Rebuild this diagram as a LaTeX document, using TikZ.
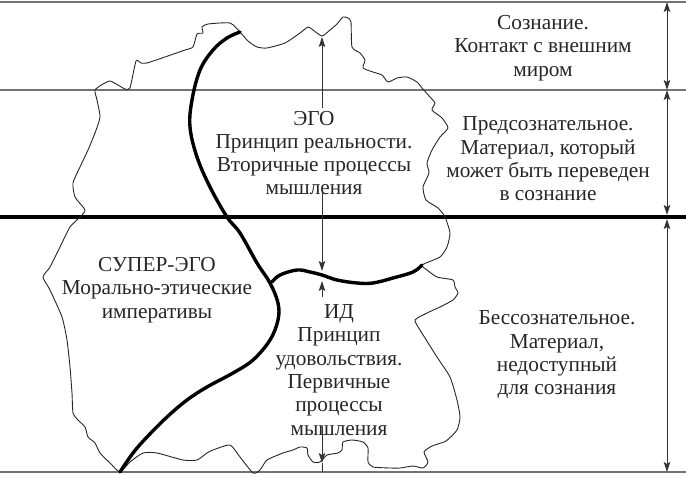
\documentclass[tikz,border=0pt]{standalone}
\usepackage{fontspec}
\setmainfont{Liberation Serif}
\usetikzlibrary{arrows.meta}
\begin{document}
\begin{tikzpicture}[x=1pt,y=-1pt,
  lbl/.style={align=center, font=\fontsize{21.3}{23.3}\selectfont, inner sep=0pt, text=black!85},
  hline/.style={draw=black!55, line width=1.2pt},
  outl/.style={draw=black!85, line width=0.9pt, line join=round},
  bold/.style={line width=3.4pt, line cap=round},
  arr/.style={-{Stealth[length=10pt,width=6.5pt,inset=2pt]}, line width=0.9pt, draw=black!80},
  darr/.style={{Stealth[length=10pt,width=6.5pt,inset=2pt]}-{Stealth[length=10pt,width=6.5pt,inset=2pt]}, line width=0.9pt, draw=black!80}]
\useasboundingbox (0,0) rectangle (686,477);

% horizontal level lines
\draw[hline] (0,2) -- (686,2);
\draw[hline] (0,90) -- (686,90);
\draw[line width=4pt] (0,217) -- (686,217);
\draw[hline] (0,472) -- (686,472);

% outline of the psyche
\draw[outl] plot[smooth cycle, tension=0.35] coordinates {
 (120,472) (110,463) (100,453) (95,443) (88,437) (85,427) (78,420) (73,413)
 (72,393) (70,367) (67,340) (62,317) (50,290) (43,277) (50,267) (60,247)
 (70,227) (80,217) (85,210) (75,197) (73,183) (80,167) (88,150) (95,133)
 (100,117) (97,100) (95,90) (103,84) (110,81) (118,85) (125,89) (130,88)
 (136,61) (141,63) (147,63) (165,57) (185,50) (193,47) (197,34) (203,33)
 (202,27) (208,24) (230,23) (240,32) (248,41) (257,47) (267,48) (285,43)
 (300,33) (308,27) (313,30) (322,36) (330,30) (337,24) (343,17) (348,18)
 (351,22) (352,47) (360,53) (365,60) (363,68) (373,72) (382,75) (388,82)
 (397,78) (407,77) (417,82) (422,88) (430,97) (435,103) (432,110) (442,118)
 (448,128) (440,137) (432,150) (427,163) (429,173) (423,187) (426,200) (438,208)
 (445,217) (450,233) (447,247) (440,257) (422,265) (427,270) (437,277) (453,280)
 (455,287) (458,293) (453,300) (440,307) (427,313) (415,320) (420,330) (437,357)
 (450,377) (457,400) (460,417) (457,430) (446,441) (432,446) (424,452) (428,462)
 (423,468) (413,466) (400,468) (390,468) (373,467) (368,462) (368,448) (363,442)
 (352,440) (343,442) (342,450) (338,453) (327,455) (320,462) (313,462) (308,455)
 (307,448) (300,447) (293,450) (283,453) (267,460) (260,470) (253,473) (240,457)
 (230,445) (213,450) (207,453) (197,460) (183,460) (157,453) (143,453) (130,462)
};

% boundaries of the structures
\draw[bold] plot[smooth, tension=0.6] coordinates {
 (240,32) (227,38) (213,50) (200,70) (192,100) (190,127) (197,157) (210,187)
 (227,217) (240,233) (257,263) (270,283) (278,303) (278,320) (270,340) (253,360)
 (233,373) (207,387) (187,400) (167,417) (147,437) (133,453) (120,472)};
\draw[bold] plot[smooth, tension=0.6] coordinates {
 (272,282) (280,275) (297,270) (310,272) (322,275) (337,280) (357,283) (373,283)
 (393,278) (413,272) (422,265)};

% texts
\node[lbl] (ego) at (314,153) {ЭГО\\Принцип реальности.\\Вторичные процессы\\мышления};
\node[lbl] (superego) at (157,290) {СУПЕР-ЭГО\\Морально-этические\\императивы};
\node[lbl] (id) at (339,370) {ИД\\Принцип\\удовольствия.\\Первичные\\процессы\\мышления};
\node[lbl] (consc) at (543,48) {Сознание.\\Контакт с внешним\\миром};
\node[lbl] (precons) at (548,159) {Предсознательное.\\Материал, который\\может быть переведен\\в сознание};
\node[lbl] (uncons) at (557,355) {Бессознательное.\\Материал,\\недоступный\\для сознания};

% central arrows
\coordinate (egoTopTip) at (322,37);
\coordinate (egoTopStart) at (322,108);
\coordinate (egoBotStart) at (322,188);
\coordinate (idTopTip) at (322,271);
\coordinate (idUpStart) at (322,297);
\coordinate (idUpTip) at (322,281);
\coordinate (idBotStart) at (322,426);
\coordinate (idBotTip) at (322,463);
\coordinate (baseTouch) at (322,472);
\draw[arr] (egoTopStart) -- (egoTopTip);
\draw[arr] (egoBotStart) -- (idTopTip);
\draw[arr] (idUpStart) -- (idUpTip);
\draw[arr] (idBotStart) -- (idBotTip);
\draw[line width=0.9pt, draw=black!80] (idBotTip) -- (baseTouch);

% right-hand level arrows
\coordinate (r0) at (667,2);
\coordinate (r1) at (667,90);
\coordinate (r2) at (667,215);
\coordinate (r2b) at (667,219);
\coordinate (r3) at (667,472);
\draw[darr] (r0) -- (r1);
\draw[darr] (r1) -- (r2);
\draw[darr] (r2b) -- (r3);
\end{tikzpicture}
\end{document}
